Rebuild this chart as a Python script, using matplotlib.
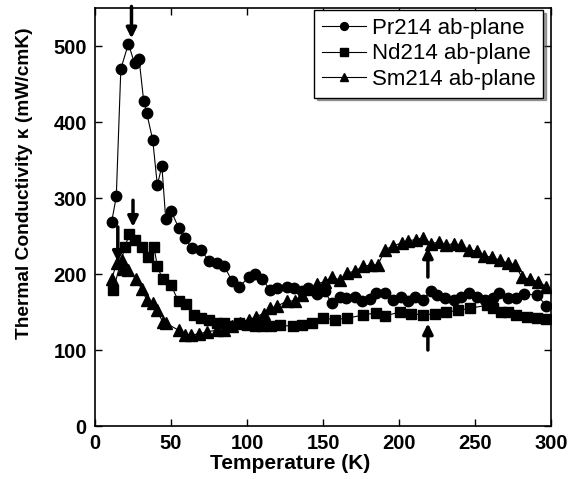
import numpy as np
import matplotlib.pyplot as plt

plt.rcParams['font.family'] = ['Liberation Sans', 'DejaVu Sans']

# Pr214 ab-plane (circles)
pr_T = [11, 14, 17, 22, 26, 29, 32, 34, 38, 41, 44, 46.5, 50, 55, 59, 64, 70, 75, 80, 85,
        90, 95, 101, 105, 110, 115, 120, 126, 131, 136, 140, 146, 151, 155.7, 161, 165, 171,
        175.5, 181, 185, 191, 196, 201, 206, 210.5, 215.6, 221, 225, 230, 236, 241, 246,
        251, 256.6, 261.6, 266, 272, 277, 282, 291, 297]
pr_k = [269, 302, 470, 503, 477, 483, 428, 412, 376, 317, 342, 273, 283, 261, 247, 234, 231,
        217, 214, 211, 191, 183, 196, 200, 194, 179, 181, 183, 181, 177, 181, 174, 177, 162,
        170, 169, 170, 164, 167, 175, 175, 166, 170, 164, 170, 166, 178, 172, 168, 166, 170,
        175, 170, 166, 168, 175, 168, 168, 174, 172, 158]

# Nd214 ab-plane (squares)
nd_T = [12, 19.7, 22.5, 26.3, 30.7, 35, 38.8, 41, 44.5, 49.8, 55, 60, 65, 70, 75, 80, 85,
        90, 95, 100, 105, 110, 116, 122, 130, 136, 143, 150, 158, 166, 176.6, 185, 191,
        200.7, 208, 216, 224, 231, 239, 247, 258, 262, 267, 272, 277, 284, 290.6, 297]
nd_k = [179, 236, 252, 245, 236, 223, 236, 210, 193, 186, 164, 160, 146, 142, 139, 135, 135,
        131, 135, 133, 132, 131, 131, 133, 131, 133, 136, 142, 140, 142, 146, 149, 145,
        150, 148, 146, 148, 150, 152, 155, 159, 155, 150, 150, 146, 144, 142, 141]

# Sm214 ab-plane (triangles)
sm_T = [11, 14.3, 17.5, 18.6, 22, 26.8, 30.7, 34, 38, 40.6, 44.5, 47, 55, 59, 63, 68.5, 73.5,
        80, 85, 90, 95.6, 101, 106, 111, 115, 120, 126, 131.6, 136, 141, 146, 151, 156, 161,
        165.6, 171, 176.5, 181.5, 186, 191, 196, 201.8, 206, 211, 216, 221, 226, 231, 236,
        241, 246, 251, 256, 261, 266.4, 272, 276.6, 280.7, 286, 291.7, 297]
sm_k = [194, 214, 219, 207, 205, 194, 180, 166, 162, 153, 137, 135, 126, 120, 120, 121, 124,
        126, 126, 131, 135, 139, 144, 148, 155, 158, 164, 165, 172, 180, 187, 190, 196, 192,
        201, 204, 210, 212, 212, 232, 237, 241, 244, 245, 248, 240, 242, 238, 240, 238, 232,
        230, 224, 222, 218, 214, 212, 196, 193, 190, 183]

# arrows: (T, kappa tail, kappa head)
arrows = [(24, 552, 510), (25, 297, 262), (15, 262, 216), (219, 196, 235), (219, 100, 135)]

fig = plt.figure(figsize=(5.85, 4.79), dpi=100)
ax = fig.add_axes([0.1624, 0.1106, 0.7795, 0.8727])

ax.plot(pr_T, pr_k, '-', color='black', lw=0.8, marker='o', ms=7.5, label='Pr214 ab-plane')
ax.plot(nd_T, nd_k, '-', color='black', lw=0.8, marker='s', ms=7, label='Nd214 ab-plane')
ax.plot(sm_T, sm_k, '-', color='black', lw=0.8, marker='^', ms=8, label='Sm214 ab-plane')

for t, k0, k1 in arrows:
    ax.annotate('', xy=(t, k1), xytext=(t, k0),
                arrowprops=dict(arrowstyle='-|>', lw=2.5, color='black', mutation_scale=15,
                                shrinkA=0, shrinkB=0))

ax.set_xlim(0, 300)
ax.set_ylim(0, 550)
ax.set_xticks([0, 50, 100, 150, 200, 250, 300])
ax.set_yticks([0, 100, 200, 300, 400, 500])
ax.tick_params(direction='in', top=True, right=True, length=5, width=1, labelsize=14.5, pad=6)
for lab in ax.get_xticklabels() + ax.get_yticklabels():
    lab.set_fontweight('bold')
ax.set_xlabel('Temperature (K)', fontsize=15, fontweight='bold', labelpad=2)
ax.xaxis.set_label_coords(0.428, -0.068)
ax.set_ylabel('Thermal Conductivity κ (mW/cmK)', fontsize=13.8, fontweight='bold')
ax.yaxis.set_label_coords(-0.135, 0.58)
for s in ax.spines.values():
    s.set_linewidth(1.2)

leg = ax.legend(loc='upper right', bbox_to_anchor=(0.983, 0.995), fontsize=16, frameon=True,
                fancybox=False, shadow=True, edgecolor='black', handlelength=2.0,
                handletextpad=0.25, borderpad=0.35, labelspacing=0.2, borderaxespad=0,
                markerscale=0.75)
leg.get_frame().set_linewidth(1.0)

fig.savefig('out.png', dpi=100)
